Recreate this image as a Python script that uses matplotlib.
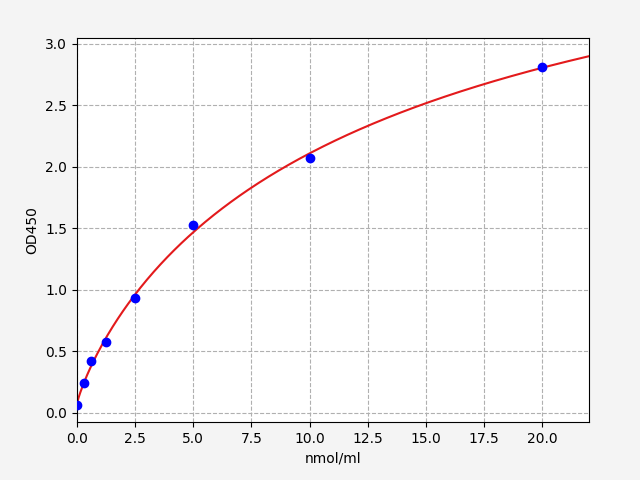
#courbe standard ELISA
import numpy as np
import matplotlib
matplotlib.use("Agg")
import matplotlib.pyplot as plt

############################### Données
concentration = [0, 0.3125, 0.625, 1.25, 2.5, 5, 10, 20]
od450 = [0.065, 0.245, 0.42, 0.577, 0.935, 1.525, 2.075, 2.815]

############################### Ajustement 4PL (recherche sur grille)
def ajuster_4pl(x, y):
    x = np.asarray(x, dtype=float)
    y = np.asarray(y, dtype=float)
    meilleur = None
    for c in np.linspace(1, 60, 600):
        for b in np.linspace(0.5, 1.5, 101):
            f = x**b / (c**b + x**b)
            M = np.column_stack([np.ones_like(x), f])
            coef, *_ = np.linalg.lstsq(M, y, rcond=None)
            err = np.sum((M @ coef - y) ** 2)
            if meilleur is None or err < meilleur[0]:
                meilleur = (err, c, b, coef)
    return meilleur[1:]

c, b, coef = ajuster_4pl(concentration, od450)
x_fit = np.linspace(0, 22, 300)
y_fit = coef[0] + coef[1] * x_fit**b / (c**b + x_fit**b)

############################### Figure
fig = plt.figure(figsize=(6.4, 4.8), dpi=100, facecolor="#f4f4f4")
ax = fig.add_axes([0.12, 0.121, 0.8, 0.8])
ax.plot(x_fit, y_fit, color="#e31a1c", linewidth=1.5, zorder=2)
ax.plot(concentration, od450, "o", color="blue", markersize=6, zorder=3)
ax.grid(True, linestyle="--", color="#b0b0b0")
ax.set_xlim(0, 22)
ax.set_ylim(-0.073, 3.049)
ax.set_xlabel("nmol/ml")
ax.set_ylabel("OD450")
fig.savefig("out.png", facecolor=fig.get_facecolor())
